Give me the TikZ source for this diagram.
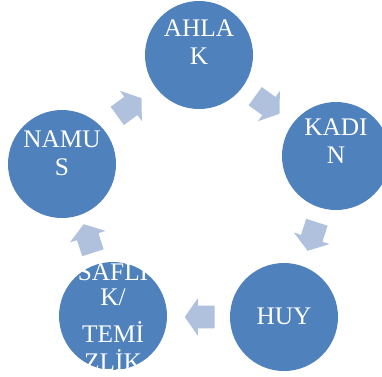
\documentclass[tikz,border=0pt]{standalone}
\usepackage{fontspec}
\setmainfont{Liberation Serif}
\usetikzlibrary{shapes,positioning,calc}
\definecolor{circleblue}{RGB}{79,129,189}
\definecolor{arrowblue}{RGB}{176,193,222}

\begin{document}
\begin{tikzpicture}[x=0.75pt,y=-0.75pt,
    bubble/.style={circle, fill=circleblue, minimum size=81pt, inner sep=0pt},
    word/.style={text=white, font=\fontsize{19}{21}\selectfont, align=center, inner sep=0pt, anchor=south},
    flow/.style={single arrow, fill=arrowblue, minimum height=22.5pt, minimum width=27.75pt,
        inner xsep=0pt, inner ysep=8.25pt, single arrow head extend=5.6pt,
        single arrow tip angle=110, anchor=tail}]
    \useasboundingbox (0,0) rectangle (382,376);

    % circles
    \node[bubble] (ahlak) at (199,55) {};
    \node[bubble] (kadin) at (336,156) {};
    \node[bubble] (huy) at (284,317) {};
    \node[bubble] (saflik) at (113,316) {};
    \node[bubble] (namus) at (62,164) {};

    % labels
    \node[word] (ahlakText) at ([yshift=-7pt]ahlak.center) {AHLA\\K};
    \node[word] (kadinText) at ([yshift=-6pt]kadin.center) {KADI\\N};
    \node[word] (huyText) at ([yshift=-6pt]huy.center) {HUY};
    \node[word] (saflikText) at ([yshift=-41pt]saflik.center) {SAFLI\\[-2.5pt]K/\\[7pt]TEMİ\\ZLİK};
    \node[word] (namusText) at ([yshift=-9pt]namus.center) {NAMU\\S};

    % arrows
    \node[flow, rotate=-36] (ahlakKadin) at (255,96) {};
    \node[flow, rotate=-108] (kadinHuy) at (317,222) {};
    \node[flow, rotate=180] (huySaflik) at (215,317) {};
    \node[flow, rotate=108] (saflikNamus) at (93,253) {};
    \node[flow, rotate=36] (namusAhlak) at (117,116) {};
\end{tikzpicture}
\end{document}
